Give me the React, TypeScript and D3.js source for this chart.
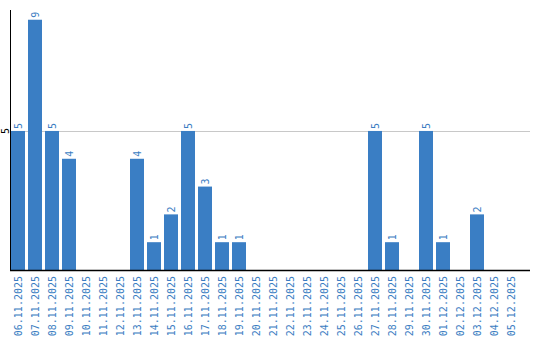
import React from "react";
import * as d3 from "d3";

const categories = [
  "06.11.2025","07.11.2025","08.11.2025","09.11.2025","10.11.2025","11.11.2025","12.11.2025",
  "13.11.2025","14.11.2025","15.11.2025","16.11.2025","17.11.2025","18.11.2025","19.11.2025",
  "20.11.2025","21.11.2025","22.11.2025","23.11.2025","24.11.2025","25.11.2025","26.11.2025",
  "27.11.2025","28.11.2025","29.11.2025","30.11.2025","01.12.2025","02.12.2025","03.12.2025",
  "04.12.2025","05.12.2025",
];
const values = [5,9,5,4,0,0,0,4,1,2,5,3,1,1,0,0,0,0,0,0,0,5,1,0,5,1,0,2,0,0];
const yTicks = [5];
const yMax = 9.35;

const BLUE = "#3a7ec4";
const TEXT_BLUE = "#3a7dc2";
const FONT = "'DejaVu Sans Mono', monospace";

export default function App() {
  const W = 540, H = 340;
  const left = 10, right = 530, top = 10, bottom = 270;
  const x = d3.scaleBand<string>().domain(categories).range([11, 518]).paddingInner(3 / 17).paddingOuter(0);
  const y = d3.scaleLinear().domain([0, yMax]).range([bottom, top]);
  return (
    <svg width={W} height={H} style={{ position: "absolute", left: 0, top: 0 }}>
      {yTicks.map((t) => (
        <g key={t}>
          <line x1={left} x2={right} y1={Math.round(y(t)) + 0.5} y2={Math.round(y(t)) + 0.5} stroke="#c8c8c8" />
          <text
            transform={`translate(5,${y(t)}) rotate(-90)`}
            textAnchor="middle"
            dominantBaseline="central"
            fontFamily={FONT}
            fontSize={10}
            fill="#000"
          >
            {t}
          </text>
        </g>
      ))}
      {categories.map((c, i) => {
        const v = values[i];
        const bx = x(c)!;
        const cx = bx + x.bandwidth() / 2;
        return (
          <g key={c}>
            {v > 0 && (
              <>
                <rect x={bx} y={y(v)} width={x.bandwidth()} height={bottom - y(v)} fill={BLUE} />
                <text
                  transform={`translate(${cx},${y(v) - 2}) rotate(-90)`}
                  textAnchor="start"
                  dominantBaseline="central"
                  fontFamily={FONT}
                  fontSize={10}
                  fill={TEXT_BLUE}
                >
                  {v}
                </text>
              </>
            )}
            <text
              transform={`translate(${cx},${bottom + 6}) rotate(-90)`}
              textAnchor="end"
              dominantBaseline="central"
              fontFamily={FONT}
              fontSize={10}
              fill={TEXT_BLUE}
            >
              {c}
            </text>
          </g>
        );
      })}
      <line x1={left + 0.5} x2={left + 0.5} y1={top} y2={bottom} stroke="#000" />
      <line x1={left} x2={right} y1={bottom + 0.5} y2={bottom + 0.5} stroke="#000" strokeWidth={1.5} />
    </svg>
  );
}
